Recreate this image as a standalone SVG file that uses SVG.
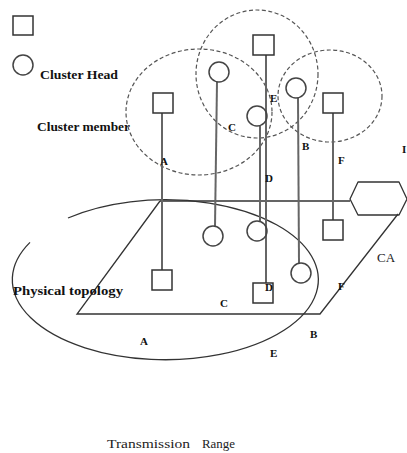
<svg xmlns="http://www.w3.org/2000/svg" width="407" height="453" viewBox="0 0 407 453">
<style>
.sq{fill:none;stroke:#333;stroke-width:1.5}
.ci{fill:none;stroke:#444;stroke-width:1.5}
.dash{fill:none;stroke:#555;stroke-width:1.2;stroke-dasharray:4 2.5}
.ln{fill:none;stroke:#333;stroke-width:1.3}
.vl{stroke:#666;stroke-width:2}
.lb{font-family:"Liberation Serif",serif;font-weight:bold;font-size:11px;fill:#111}
.big{font-size:13px}
.tx{font-family:"Liberation Serif",serif;font-size:13px;fill:#222}
</style>
<rect width="407" height="453" fill="#fff"/>
<g id="legend">
<rect class="sq" x="13" y="16" width="20" height="19"/>
<circle class="ci" cx="23" cy="65" r="10"/>
<text class="lb big" x="40" y="79" textLength="78" lengthAdjust="spacingAndGlyphs">Cluster Head</text>
<text class="lb big" x="37" y="131" textLength="93" lengthAdjust="spacingAndGlyphs">Cluster member</text>
</g>
<g id="clusters">
<ellipse class="dash" cx="199" cy="112" rx="73" ry="63"/>
<ellipse class="dash" cx="257" cy="74" rx="61" ry="64"/>
<ellipse class="dash" cx="330" cy="96" rx="52" ry="46"/>
</g>
<g id="physical-topology">
<path class="ln" d="M160 201 L350 201 M160 201 L77 314 L320 314 L398 214"/>
<path class="ln" d="M68 218 A153 80 0 1 1 30 242.4"/>
<text class="lb big" x="13" y="295" textLength="110" lengthAdjust="spacingAndGlyphs">Physical topology</text>
</g>
<g id="connectors">
<line class="vl" x1="162" y1="113" x2="162" y2="270"/>
<line class="vl" x1="217" y1="82" x2="215" y2="226"/>
<line class="vl" x1="266" y1="55" x2="266" y2="283"/>
<line class="vl" x1="260" y1="126" x2="260" y2="221"/>
<line class="vl" x1="298" y1="98" x2="299" y2="263"/>
<line class="vl" x1="333" y1="113" x2="333" y2="220"/>
</g>
<g id="n-sq1"><rect class="sq" x="153" y="93" width="20" height="20"/></g>
<g id="n-sq2"><rect class="sq" x="253" y="35" width="21" height="20"/></g>
<g id="n-sq3"><rect class="sq" x="323" y="93" width="20" height="20"/></g>
<g id="n-sq4"><rect class="sq" x="152" y="270" width="20" height="20"/></g>
<g id="n-sq5"><rect class="sq" x="253" y="283" width="20" height="20"/></g>
<g id="n-sq6"><rect class="sq" x="323" y="220" width="20" height="20"/></g>
<g id="n-ci1"><circle class="ci" cx="219" cy="72" r="10"/></g>
<g id="n-ci2"><circle class="ci" cx="257" cy="116" r="10"/></g>
<g id="n-ci3"><circle class="ci" cx="296" cy="88" r="10"/></g>
<g id="n-ci4"><circle class="ci" cx="213" cy="236" r="10"/></g>
<g id="n-ci5"><circle class="ci" cx="257" cy="231" r="10"/></g>
<g id="n-ci6"><circle class="ci" cx="301" cy="273" r="10"/></g>
<g id="n-ca"><path class="ln" stroke-linejoin="round" d="M350 199 L358 182 L399 182 L407 199 L399 215 L358 215 Z"/></g>
<g id="labels">
<text class="lb" x="160" y="165">A</text>
<text class="lb" x="228" y="131">C</text>
<text class="lb" x="270" y="102">E</text>
<text class="lb" x="302" y="150">B</text>
<text class="lb" x="265" y="182">D</text>
<text class="lb" x="338" y="164">F</text>
<text class="lb" x="402" y="153" font-size="20">I</text>
<text class="lb" x="265" y="291">D</text>
<text class="lb" x="338" y="290">F</text>
<text class="tx" x="377" y="262">CA</text>
<text class="lb" x="220" y="307">C</text>
<text class="lb" x="140" y="345">A</text>
<text class="lb" x="310" y="338">B</text>
<text class="lb" x="270" y="357">E</text>
<text class="tx" x="107" y="448" textLength="83" lengthAdjust="spacingAndGlyphs">Transmission</text>
<text class="tx" x="202" y="448" textLength="33" lengthAdjust="spacingAndGlyphs">Range</text>
</g>
</svg>
